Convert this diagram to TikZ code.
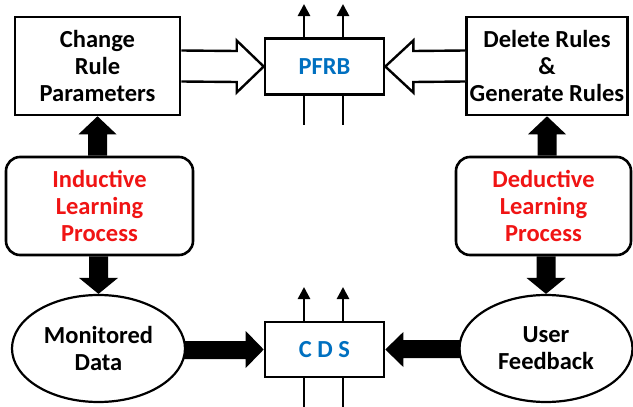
\documentclass[tikz,border=0pt]{standalone}
\usepackage{fontspec}
\setmainfont{Carlito}
\usetikzlibrary{arrows.meta,shapes.geometric,calc}
\definecolor{procred}{RGB}{240,20,20}
\definecolor{storeblue}{RGB}{0,112,192}
\begin{document}
\begin{tikzpicture}[x=1pt,y=-1pt,
  txt/.style={font=\bfseries\fontsize{24.5}{27}\selectfont, align=center, inner sep=0pt},
  box/.style={txt, draw, line width=2.6pt, fill=white},
  procbox/.style={box, rounded corners=14pt, text=procred},
  store/.style={box, text=storeblue, minimum width=119pt, minimum height=56pt},
  oval/.style={txt, ellipse, draw, line width=2.2pt, fill=white, minimum width=173pt, minimum height=107pt},
  solidarrow/.style={fill=black},
  hollowarrow/.style={draw, line width=2.4pt, fill=white, line join=miter},
  flow/.style={line width=2.6pt, -{Triangle[length=12pt,width=12pt]}},
  tail/.style={line width=2.6pt}
]
\useasboundingbox (0,0) rectangle (633,407);

% blocks
\node[box, minimum width=165pt, minimum height=98pt] (crp) at (97.5,66) {Change\\Rule\\Parameters};
\node[box, minimum width=161pt, minimum height=98pt] (dgr) at (547,66) {Delete Rules\\\&\\Generate Rules};
\node[store] (pfrb) at (324.5,66.5) {PFRB};
\node[procbox, minimum width=187pt, minimum height=98pt] (ilp) at (99.5,206) {Inductive\\Learning\\Process};
\node[procbox, minimum width=175pt, minimum height=98pt] (dlp) at (543.5,206) {Deductive\\Learning\\Process};
\node[oval] (md) at (98.5,348.5) {Monitored\\Data};
\node[oval] (uf) at (546,348.5) {User\\Feedback};
\node[store, minimum height=55pt] (cds) at (324.5,349.5) {C D S};

% open block arrows into the rule base
\draw[hollowarrow] ($(crp.east)+(0,-15.5)$) -- ($(pfrb.west)+(-27,-15.5)$) -- ($(pfrb.west)+(-27,-26)$)
  -- (pfrb.west) -- ($(pfrb.west)+(-27,26)$) -- ($(pfrb.west)+(-27,15.5)$) -- ($(crp.east)+(0,15.5)$);
\draw[hollowarrow] ($(dgr.west)+(0,-15.5)$) -- ($(pfrb.east)+(28,-15.5)$) -- ($(pfrb.east)+(28,-26)$)
  -- (pfrb.east) -- ($(pfrb.east)+(28,26)$) -- ($(pfrb.east)+(28,15.5)$) -- ($(dgr.west)+(0,15.5)$);

% solid block arrows: learning processes up to the rule blocks
\fill[solidarrow] ($(crp.south |- ilp.north)+(-9.5,0)$) -- ($(crp.south)+(-9.5,18)$) -- ($(crp.south)+(-19,18)$)
  -- (crp.south) -- ($(crp.south)+(19,18)$) -- ($(crp.south)+(9.5,18)$) -- ($(crp.south |- ilp.north)+(9.5,0)$) -- cycle;
\fill[solidarrow] ($(dgr.south |- dlp.north)+(-9.5,0)$) -- ($(dgr.south)+(-9.5,18)$) -- ($(dgr.south)+(-19,18)$)
  -- (dgr.south) -- ($(dgr.south)+(19,18)$) -- ($(dgr.south)+(9.5,18)$) -- ($(dgr.south |- dlp.north)+(9.5,0)$) -- cycle;

% solid block arrows: learning processes down to the data sources
\fill[solidarrow] ($(md.north |- ilp.south)+(-9.5,0)$) -- ($(md.north)+(-9.5,-16)$) -- ($(md.north)+(-19.5,-16)$)
  -- (md.north) -- ($(md.north)+(19.5,-16)$) -- ($(md.north)+(9.5,-16)$) -- ($(md.north |- ilp.south)+(9.5,0)$) -- cycle;
\fill[solidarrow] ($(uf.north |- dlp.south)+(-9.5,0)$) -- ($(uf.north)+(-9.5,-16)$) -- ($(uf.north)+(-19.5,-16)$)
  -- (uf.north) -- ($(uf.north)+(19.5,-16)$) -- ($(uf.north)+(9.5,-16)$) -- ($(uf.north |- dlp.south)+(9.5,0)$) -- cycle;

% solid block arrows into the CDS
\fill[solidarrow] ($(md.east |- cds.west)+(-2,-8.5)$) -- ($(cds.west)+(-18,-8.5)$) -- ($(cds.west)+(-18,-18.5)$)
  -- (cds.west) -- ($(cds.west)+(-18,18.5)$) -- ($(cds.west)+(-18,9.5)$) -- ($(md.east |- cds.west)+(-2,9.5)$) -- cycle;
\fill[solidarrow] ($(uf.west |- cds.east)+(2,-9.5)$) -- ($(cds.east)+(18,-9.5)$) -- ($(cds.east)+(18,-17.5)$)
  -- (cds.east) -- ($(cds.east)+(18,17.5)$) -- ($(cds.east)+(18,8.5)$) -- ($(uf.west |- cds.east)+(2,8.5)$) -- cycle;

% thin input/output lines of the two stores
\coordinate (pa) at (304,4);
\coordinate (pb) at (343,4);
\coordinate (pc) at (304,125);
\coordinate (pd) at (343,125);
\coordinate (ca) at (304,287);
\coordinate (cb) at (343,287);
\coordinate (cc) at (304,407);
\coordinate (cd) at (343,407);
\draw[flow] (pa |- pfrb.north) -- (pa);
\draw[flow] (pb |- pfrb.north) -- (pb);
\draw[tail] (pc |- pfrb.south) -- (pc);
\draw[tail] (pd |- pfrb.south) -- (pd);
\draw[flow] (ca |- cds.north) -- (ca);
\draw[flow] (cb |- cds.north) -- (cb);
\draw[tail] (cc |- cds.south) -- (cc);
\draw[tail] (cd |- cds.south) -- (cd);
\end{tikzpicture}
\end{document}
